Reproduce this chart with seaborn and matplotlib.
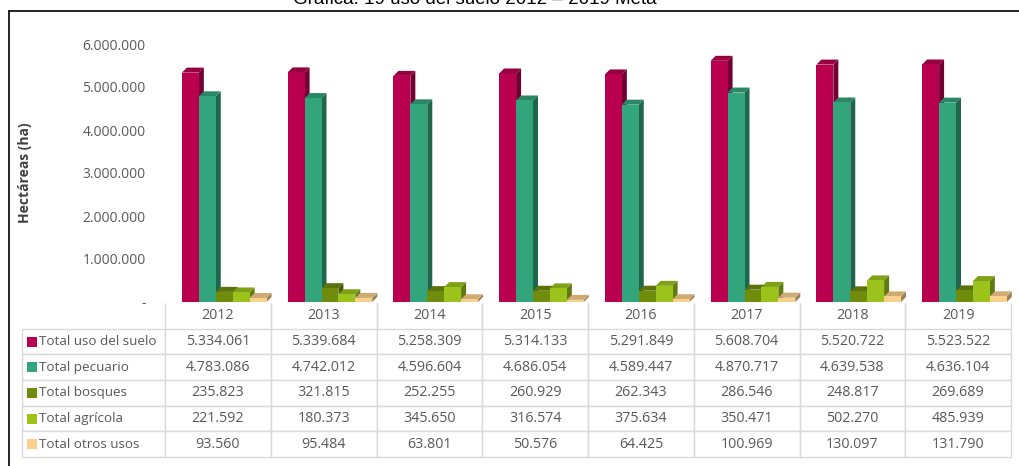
import numpy as np
import pandas as pd
import seaborn as sns
import matplotlib.pyplot as plt
from matplotlib.patches import Polygon, Rectangle
from matplotlib.lines import Line2D
import matplotlib.colors as mcolors

# datos
years = ['2012', '2013', '2014', '2015', '2016', '2017', '2018', '2019']
series = ['Total uso del suelo', 'Total pecuario', 'Total bosques', 'Total agrícola', 'Total otros usos']
uso_suelo = [5334061, 5339684, 5258309, 5314133, 5291849, 5608704, 5520722, 5523522]
pecuario = [4783086, 4742012, 4596604, 4686054, 4589447, 4870717, 4639538, 4636104]
bosques = [235823, 321815, 252255, 260929, 262343, 286546, 248817, 269689]
agricola = [221592, 180373, 345650, 316574, 375634, 350471, 502270, 485939]
otros = [93560, 95484, 63801, 50576, 64425, 100969, 130097, 131790]
colors = ['#B8004E', '#33A57C', '#6F8C0C', '#9CC31B', '#FAD08C']

values = [uso_suelo, pecuario, bosques, agricola, otros]
df = pd.DataFrame([(y, s, v[i]) for s, v in zip(series, values) for i, y in enumerate(years)],
                  columns=['year', 'serie', 'value'])

def fmt(v):
    return f"{v:,}".replace(",", ".")

sns.set_theme(style='white')
plt.rcParams['font.family'] = ['Open Sans', 'DejaVu Sans']

W, H = 1019, 466
fig = plt.figure(figsize=(W / 100, H / 100), dpi=100)

base_px, px_per_m, ymax = 302, 43.0, 6.25e6
top_px = base_px - ymax / 1e6 * px_per_m
ax = fig.add_axes([165 / W, 1 - base_px / H, (1011 - 165) / W, (base_px - top_px) / H])

sns.barplot(data=df, x='year', y='value', hue='serie', palette=colors, width=0.8,
            saturation=1, legend=False, ax=ax, zorder=3, edgecolor='none', linewidth=0)
ax.set_ylim(0, ymax)
ax.set_xlim(-0.56, len(years) - 0.56)

# caras laterales y superiores (efecto 3D)
fig.canvas.draw()
dx, dy = 5, 5
inv = ax.transData.inverted()
for p in ax.patches:
    x0, y0 = p.get_x(), p.get_y()
    w, h = p.get_width(), p.get_height()
    c = np.array(mcolors.to_rgb(p.get_facecolor()))
    corners = ax.transData.transform([(x0, y0), (x0 + w, y0), (x0 + w, y0 + h), (x0, y0 + h)])
    bl, br, tr, tl = corners
    side = inv.transform([br, br + (dx, dy), tr + (dx, dy), tr])
    top = inv.transform([tl, tr, tr + (dx, dy), tl + (dx, dy)])
    ax.add_patch(Polygon(side, closed=True, facecolor=c * 0.62, edgecolor='none', zorder=2.5, clip_on=False))
    ax.add_patch(Polygon(top, closed=True, facecolor=c * 0.82, edgecolor='none', zorder=2.5, clip_on=False))

ax.set_yticks(np.arange(0, 6.5e6, 1e6))
ax.set_yticklabels(['-'] + [fmt(int(v)) for v in np.arange(1e6, 6.5e6, 1e6)], color='#595959', fontsize=10)
ax.tick_params(axis='y', length=0, pad=14)
ax.set_xticks([])
ax.set_xlabel('')
ax.set_ylabel('')
for s in ax.spines.values():
    s.set_visible(False)

fig.text(25 / W, 1 - 173 / H, 'Hectáreas (ha)', rotation=90, ha='center', va='center',
         fontsize=10, fontweight='bold', color='#404040')

# tabla de datos
tax = fig.add_axes([22 / W, 1 - 457 / H, (1011 - 22) / W, (457 - 303) / H])
tax.axis('off')
cell_text = [[''] + years] + [[s] + [fmt(v) for v in vals] for s, vals in zip(series, values)]
col_w = [143] + [(1011 - 165) / len(years)] * len(years)
tbl = tax.table(cellText=cell_text, colWidths=[c / sum(col_w) for c in col_w],
                cellLoc='center', bbox=[0, 0, 1, 1])
tbl.auto_set_font_size(False)
for (r, c), cell in tbl.get_celld().items():
    cell.set_edgecolor('#D9D9D9')
    cell.set_linewidth(1)
    cell.get_text().set_color('#595959')
    cell.get_text().set_fontsize(10.3)
    if c == 0:
        cell.get_text().set_ha('left')
        cell.get_text().set_fontsize(9.7)
        cell.PAD = 17 / 143
    if r == 0:
        cell.visible_edges = '' if c == 0 else 'LR'

nrows = len(series) + 1
for i, col in enumerate(colors):
    yc = 1 - (i + 1.5) / nrows
    sq_w, sq_h = 10 / 989, 10 / 154
    tax.add_patch(Rectangle((5 / 989, yc - sq_h / 2), sq_w, sq_h, facecolor=col, edgecolor='none',
                            transform=tax.transAxes, zorder=10))

# marco y título
fig.add_artist(Line2D([9 / W, 1], [1 - 11 / H, 1 - 11 / H], color='black', linewidth=1.2))
fig.add_artist(Line2D([9 / W, 9 / W], [0, 1 - 11 / H], color='black', linewidth=1.2))
fig.text(475 / W, 1 - 4 / H, 'Gráfica. 19 uso del suelo 2012 – 2019 Meta', ha='center', va='baseline',
         fontsize=13.5, color='black', family=['Liberation Sans', 'DejaVu Sans'])

fig.savefig('out.png', dpi=100)
